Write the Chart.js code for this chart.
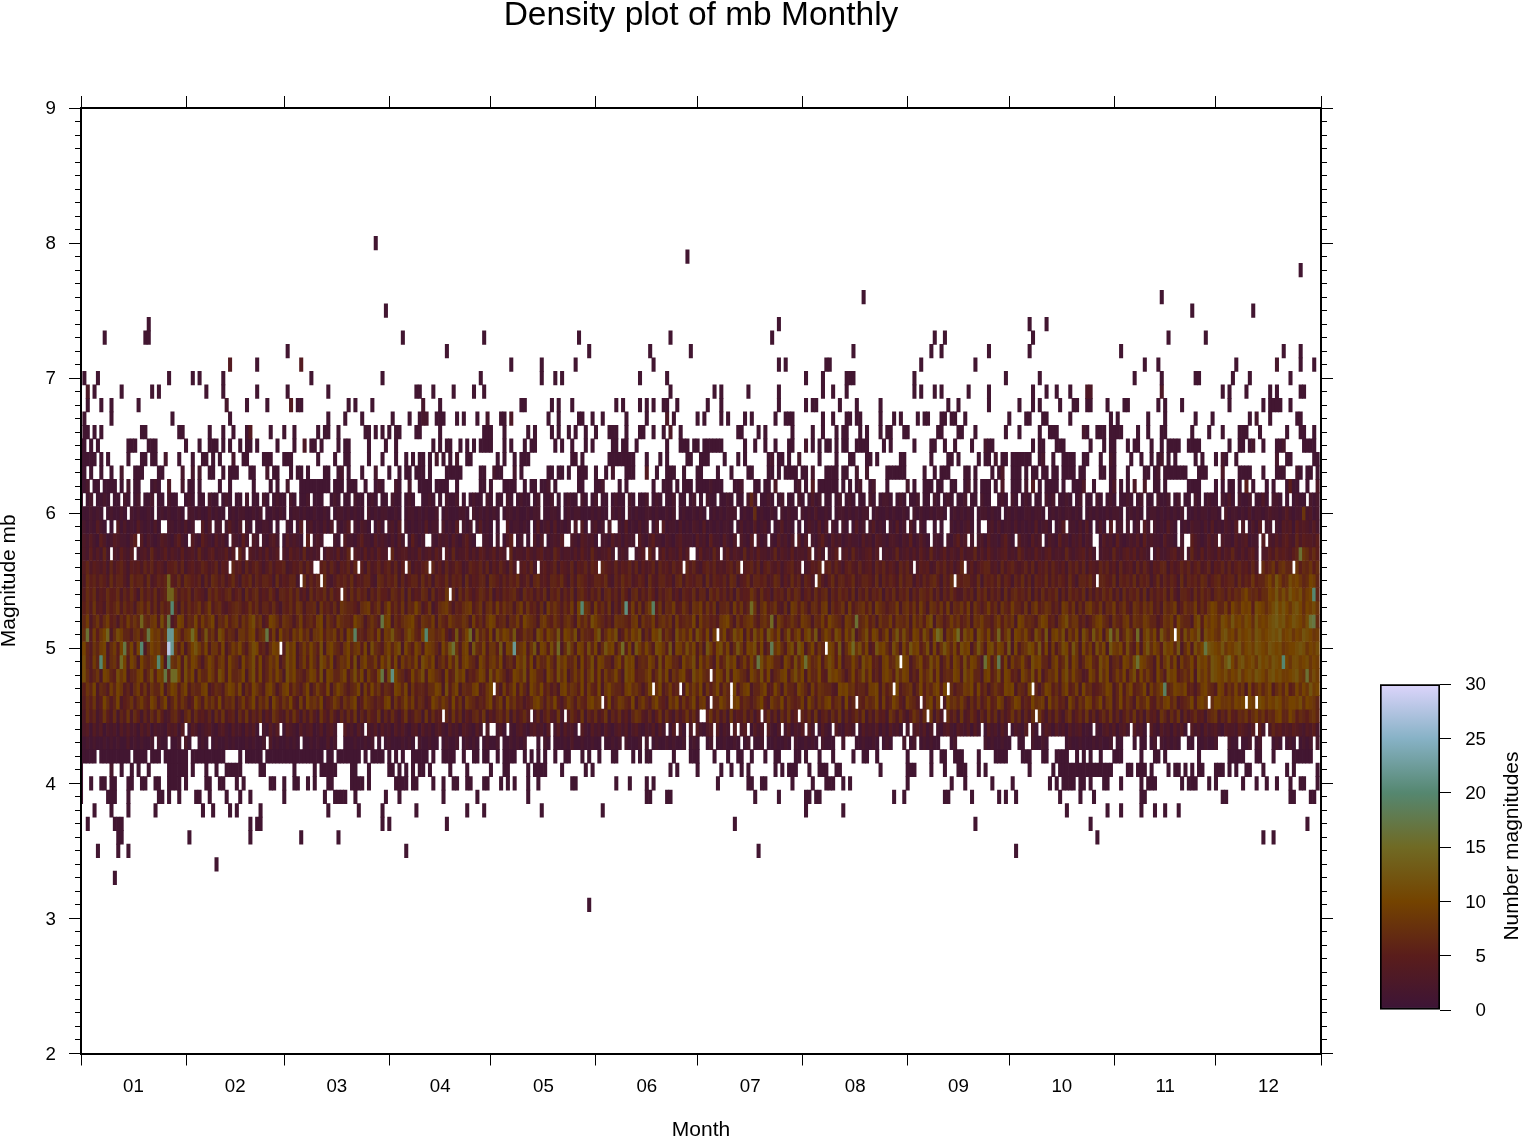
<!DOCTYPE html>
<html>
<head>
<meta charset="utf-8">
<title>Density plot of mb Monthly</title>
<script src="https://cdn.jsdelivr.net/npm/chart.js@4/dist/chart.umd.min.js"></script>
<style>
    body { margin: 0; background: #fff; }
    #densityChart { position: absolute; left: 0; top: 0; }
    #barChart { position: absolute; left: 1360px; top: 660px; }
</style>
</head>
<body>
<canvas id="densityChart" width="1524" height="1138"></canvas>
<canvas id="barChart" width="164" height="380"></canvas>
<script>
// Ejes
const monthEdges = [0, 31, 60, 91, 121, 152, 182, 213, 244, 274, 305, 335, 366];
const monthLabels = ['01', '02', '03', '04', '05', '06', '07', '08', '09', '10', '11', '12'];
const barTicks = [0, 5, 10, 15, 20, 25, 30];
const barColors = ['#3c1437', '#5a1d1b', '#744300', '#706a24', '#558770', '#87b2c6', '#ddd5fc'];

// Filas dispersas: un dia por cada evento leido (dia repetido = mas eventos)
const m80 = [87];
const m79 = [179];
const m78 = [360];
const m76 = [231, 319];
const m75 = [90, 328, 346];
const m74 = [20, 206, 280, 285];
const m73 = [7, 19, 20, 95, 119, 147, 174, 204, 252, 255, 281, 321, 332];
const m72 = [61, 108, 150, 168, 180, 228, 251, 254, 268, 280, 307, 355, 360];
const m71 = [44, 44, 44, 44, 52, 65, 65, 65, 65, 127, 136, 146, 169, 206, 208, 220, 221, 248, 264, 314, 318, 341, 353, 353, 360, 364];
const m70 = [1, 5, 26, 33, 35, 42, 68, 89, 118, 136, 140, 142, 165, 173, 214, 219, 226, 227, 228, 246, 273, 283, 311, 319, 329, 330, 340, 345, 357];
const m69 = [2, 2, 2, 4, 12, 21, 23, 37, 42, 52, 61, 73, 99, 100, 104, 110, 116, 119, 174, 187, 189, 197, 206, 219, 222, 226, 246, 248, 252, 254, 262, 268, 281, 285, 288, 292, 297, 297, 297, 298, 298, 298, 319, 319, 319, 337, 339, 344, 351, 353, 360, 361];
const m68 = [2, 6, 9, 17, 43, 43, 49, 55, 62, 62, 62, 62, 64, 65, 79, 81, 86, 101, 101, 106, 130, 131, 139, 141, 145, 158, 160, 165, 167, 169, 172, 173, 176, 185, 189, 206, 214, 216, 217, 224, 229, 236, 256, 259, 268, 277, 281, 283, 289, 293, 294, 297, 298, 303, 308, 309, 318, 320, 325, 339, 349, 351, 352, 353, 354, 357];
const m67 = [1, 9, 27, 44, 73, 78, 83, 92, 97, 100, 101, 101, 102, 102, 105, 106, 107, 111, 113, 117, 120, 120, 124, 125, 127, 127, 127, 138, 141, 147, 148, 151, 154, 161, 167, 173, 173, 173, 175, 182, 184, 189, 191, 196, 198, 205, 208, 209, 210, 219, 222, 226, 227, 229, 230, 236, 240, 242, 247, 249, 250, 254, 255, 257, 258, 261, 274, 279, 280, 284, 285, 292, 304, 306, 315, 320, 329, 334, 345, 347, 347, 351, 359, 360];
const m66 = [1, 2, 4, 6, 18, 19, 29, 30, 38, 42, 45, 49, 50, 50, 50, 50, 56, 60, 63, 70, 72, 73, 76, 84, 85, 87, 89, 91, 93, 94, 99, 100, 106, 119, 120, 121, 125, 132, 134, 139, 141, 144, 146, 149, 152, 156, 157, 158, 161, 165, 166, 169, 172, 174, 174, 174, 177, 194, 195, 200, 202, 210, 216, 219, 223, 225, 226, 230, 232, 236, 238, 239, 243, 244, 253, 254, 259, 260, 264, 273, 277, 283, 286, 287, 288, 296, 296, 297, 300, 301, 302, 304, 305, 306, 307, 312, 315, 319, 320, 328, 333, 337, 342, 343, 344, 348, 356, 360, 361, 364];
const m65 = [0, 1, 3, 5, 14, 15, 16, 20, 21, 22, 31, 35, 38, 39, 40, 42, 44, 47, 49, 50, 52, 58, 63, 66, 66, 66, 68, 69, 71, 76, 78, 79, 85, 90, 93, 104, 106, 108, 109, 112, 114, 116, 118, 119, 120, 121, 125, 127, 131, 133, 134, 140, 142, 145, 149, 151, 157, 158, 160, 161, 164, 173, 177, 178, 179, 181, 182, 184, 185, 186, 187, 188, 189, 196, 199, 202, 205, 209, 210, 214, 214, 216, 218, 220, 221, 223, 225, 226, 229, 230, 231, 232, 237, 239, 246, 251, 252, 255, 258, 263, 267, 267, 268, 269, 281, 283, 284, 288, 289, 290, 298, 302, 304, 305, 309, 311, 312, 316, 319, 321, 322, 323, 324, 327, 328, 329, 330, 339, 342, 343, 345, 346, 346, 349, 353, 354, 355, 355, 361, 362, 363, 364];
const m64 = [0, 1, 2, 3, 4, 6, 8, 14, 18, 19, 21, 22, 25, 25, 29, 33, 36, 37, 39, 41, 45, 45, 48, 49, 54, 55, 56, 60, 61, 62, 70, 75, 78, 79, 85, 89, 93, 96, 98, 100, 101, 103, 105, 105, 107, 109, 111, 111, 114, 115, 123, 125, 128, 130, 131, 132, 145, 146, 148, 156, 157, 158, 159, 160, 161, 162, 163, 167, 171, 173, 179, 180, 183, 184, 185, 190, 194, 196, 203, 204, 204, 206, 207, 209, 212, 212, 218, 223, 227, 228, 232, 233, 235, 242, 243, 251, 256, 257, 259, 265, 267, 268, 270, 270, 272, 273, 275, 276, 277, 278, 279, 280, 283, 284, 284, 287, 290, 291, 292, 293, 296, 297, 301, 304, 304, 305, 310, 313, 316, 318, 319, 319, 321, 323, 329, 331, 335, 337, 337, 338, 341, 353, 353, 356, 357, 364, 365];
const m63 = [0, 1, 3, 6, 9, 12, 12, 16, 17, 18, 23, 24, 30, 30, 33, 33, 35, 35, 38, 39, 42, 44, 45, 46, 50, 51, 55, 55, 57, 58, 62, 64, 65, 67, 72, 73, 76, 77, 77, 79, 83, 87, 87, 91, 94, 96, 97, 99, 100, 101, 103, 108, 109, 110, 111, 112, 118, 119, 122, 122, 123, 124, 128, 128, 130, 138, 139, 141, 142, 144, 147, 148, 149, 152, 155, 157, 157, 161, 162, 163, 167, 167, 167, 167, 170, 173, 174, 175, 178, 182, 183, 188, 192, 197, 198, 203, 204, 206, 208, 209, 210, 211, 213, 214, 216, 216, 220, 221, 222, 223, 225, 226, 229, 229, 232, 232, 238, 239, 240, 241, 242, 243, 249, 252, 254, 255, 256, 261, 262, 264, 269, 271, 272, 272, 272, 275, 276, 277, 279, 281, 282, 284, 285, 287, 288, 290, 291, 292, 293, 295, 296, 301, 302, 304, 305, 309, 314, 315, 317, 318, 318, 320, 321, 322, 323, 324, 325, 326, 330, 331, 332, 337, 337, 337, 342, 343, 344, 345, 349, 353, 354, 355, 359, 359, 360, 362, 363, 365];
const m62 = [0, 1, 2, 2, 4, 5, 7, 8, 9, 10, 12, 14, 14, 16, 17, 21, 22, 22, 23, 26, 26, 26, 30, 30, 32, 33, 35, 41, 44, 51, 56, 58, 61, 61, 65, 66, 67, 68, 69, 70, 71, 72, 73, 75, 76, 77, 79, 80, 81, 84, 87, 88, 88, 89, 93, 93, 94, 97, 97, 100, 101, 102, 103, 105, 106, 107, 108, 111, 118, 119, 121, 125, 126, 127, 128, 131, 133, 134, 136, 137, 138, 138, 140, 147, 148, 152, 153, 154, 154, 159, 161, 169, 172, 173, 174, 176, 178, 179, 180, 182, 183, 184, 185, 186, 186, 187, 188, 189, 193, 194, 195, 195, 199, 200, 202, 203, 205, 205, 205, 211, 212, 212, 214, 216, 216, 216, 216, 218, 219, 220, 221, 222, 223, 225, 227, 229, 230, 230, 233, 234, 234, 238, 244, 244, 246, 249, 250, 251, 253, 254, 257, 258, 261, 262, 262, 264, 266, 267, 268, 270, 272, 272, 272, 275, 276, 277, 279, 279, 281, 281, 281, 281, 283, 285, 286, 287, 288, 290, 293, 294, 295, 296, 296, 296, 299, 304, 305, 305, 305, 307, 309, 311, 311, 311, 314, 314, 314, 317, 318, 320, 327, 328, 329, 330, 335, 337, 339, 340, 342, 344, 344, 344, 344, 344, 346, 350, 352, 356, 357, 357, 357, 357, 357, 358, 359, 362, 365, 365, 365];
const m42 = [0, 1, 2, 3, 4, 6, 7, 8, 9, 10, 11, 12, 13, 14, 16, 17, 18, 19, 21, 22, 23, 25, 26, 27, 28, 29, 30, 31, 33, 34, 35, 36, 37, 38, 39, 40, 41, 42, 47, 49, 50, 51, 52, 53, 55, 56, 57, 58, 59, 60, 61, 62, 63, 64, 65, 66, 67, 68, 69, 70, 71, 73, 74, 76, 77, 78, 79, 80, 81, 82, 84, 86, 87, 88, 89, 91, 93, 95, 98, 99, 100, 101, 102, 104, 107, 108, 109, 110, 113, 116, 117, 119, 120, 123, 125, 126, 127, 128, 131, 133, 135, 137, 140, 143, 144, 148, 150, 153, 157, 158, 163, 165, 167, 168, 175, 180, 181, 182, 187, 191, 194, 195, 198, 202, 205, 206, 211, 212, 214, 218, 222, 228, 231, 232, 235, 244, 251, 254, 255, 258, 259, 260, 265, 270, 271, 272, 273, 278, 279, 280, 284, 285, 288, 289, 290, 291, 294, 296, 298, 301, 305, 306, 307, 313, 317, 318, 320, 330, 339, 340, 341, 342, 343, 347, 348, 352, 358, 359, 360, 361, 362, 363];
const m41 = [0, 9, 9, 12, 15, 17, 20, 26, 27, 28, 29, 30, 31, 33, 37, 40, 43, 44, 45, 46, 47, 53, 54, 63, 69, 71, 72, 73, 74, 75, 80, 81, 85, 91, 92, 94, 96, 98, 100, 101, 103, 109, 114, 121, 125, 126, 132, 134, 135, 136, 137, 142, 149, 151, 174, 176, 182, 189, 192, 195, 197, 205, 207, 209, 210, 211, 215, 218, 219, 220, 223, 224, 236, 244, 245, 246, 251, 255, 259, 260, 261, 265, 267, 280, 287, 289, 290, 291, 292, 293, 294, 295, 296, 297, 298, 299, 300, 301, 302, 303, 304, 309, 310, 312, 313, 314, 316, 321, 323, 324, 326, 328, 330, 331, 335, 336, 337, 339, 341, 344, 345, 349, 356, 358, 365];
const m40 = [0, 3, 6, 7, 9, 10, 14, 15, 18, 19, 22, 23, 26, 27, 28, 29, 31, 37, 38, 41, 42, 46, 48, 56, 57, 60, 63, 64, 67, 69, 73, 74, 80, 81, 82, 83, 85, 93, 94, 95, 96, 98, 99, 104, 107, 110, 111, 114, 115, 119, 120, 124, 126, 128, 132, 135, 145, 146, 158, 162, 167, 169, 188, 197, 198, 201, 202, 210, 216, 220, 221, 222, 225, 227, 244, 257, 261, 269, 275, 286, 288, 290, 291, 292, 293, 295, 296, 298, 302, 303, 307, 313, 315, 316, 317, 325, 327, 328, 329, 333, 335, 343, 347, 350, 353, 357, 360, 361, 365];
const m39 = [0, 8, 9, 10, 14, 23, 24, 26, 29, 34, 35, 38, 43, 47, 50, 60, 72, 75, 76, 77, 78, 81, 90, 94, 107, 117, 132, 167, 168, 173, 174, 199, 206, 214, 215, 217, 218, 240, 243, 255, 256, 263, 271, 273, 276, 289, 295, 299, 313, 314, 337, 338, 357, 358, 363, 364];
const m38 = [4, 9, 14, 22, 36, 39, 44, 46, 53, 73, 82, 89, 99, 114, 119, 136, 154, 214, 225, 291, 303, 307, 313, 317, 320, 324];
const m37 = [2, 10, 11, 12, 50, 52, 53, 89, 91, 108, 193, 264, 298, 362];
const m36 = [11, 12, 32, 50, 65, 76, 300, 349, 352];
const m35 = [5, 11, 14, 96, 200, 276];
const m34 = [40];
const m33 = [10];
const m31 = [150];

// Filas densas: conteo por dia (36 grupos de 10 y 6 finales), 0=vacio, a=10, b=11, c=12...
// Son estimaciones a ojo del tono y la textura de la banda, no lecturas exactas celda a celda
const c61 = '1012011210 1102101201 1201102110 0121011021 1012101102 0110210121 ' + '1021011201 1100121011 0211012101 1021101210 0112101021 1201012110 ' + '2101102101 2110120112 0101211021 0120110121 1021011201 2101120110 ' + '1201021101 1210110212 0112101201 1021013120 1101201210 1102101221 ' + '0121011201 1021012101 1201102110 0121021012 1011021201 1210120110 ' + '2101210112 1012011021 1201201102 1012110213 1021120113 1022101012 110212';
const c60 = '2112121012 1121021211 2101212112 1022121131 2110121221 1212011212 ' + '1012212112 1121012212 1211021212 2112101221 2121120121 1122102121 ' + '2121012212 1121220112 2101212211 1212110212 1021211221 2112120121 ' + '1212101212 1222012112 1211210212 1102121311 2101221212 1220121121 ' + '2112102121 1212210121 2121012212 1101212112 2122101212 1221210121 ' + '2112122101 2121012212 1212120112 1221221031 2212131221 2322124212 232312';
const c59 = '3212142131 2413121421 2131412212 1312214131 2212421312 1411221213 ' + '1212141231 2131312124 1213212131 1231412121 2141221312 1412122141 ' + '2131214122 1213141231 4121213141 1231213122 1412131221 3141221312 ' + '1321412121 2213131214 1231212412 1213132141 3121321214 1212412132 ' + '1412131421 2312131212 1231412123 1312213121 2141231312 4122131412 ' + '1312412212 3121421212 1421312132 2131412132 1413213142 2232143415 343242';
const c58 = '3324215312 4322135241 3212432135 2134215321 4231232152 1324213422 ' + '1423213512 3231421242 2135221423 2131423152 1242213231 4213521322 ' + '2142313521 2412313212 3241232143 2315221423 1322142135 2213213422 ' + '2142315221 4213232142 3123214231 3241322135 2142312322 1423143213 ' + '3213251242 1322142135 2312423142 2135213422 1423213215 2313241323 ' + '2142315212 3241523221 4221322153 2124231322 1423412234 3324245326 354435';
const c57 = '4325242623 3253245234 2632352432 5234263245 2335242632 4324252342 ' + '3253426232 3524325236 2432524253 3262344232 5234253242 6233524254 ' + '2352432623 3253245232 6423324253 2632335242 3245234263 2352432524 ' + '4325232632 3524326242 5332362432 5233253242 4235234263 2345243232 ' + '3623424253 2632352432 5233624253 2345232642 3253245233 2632345242 ' + '5233263245 3524326242 2345234263 2524325243 6324245253 3536454356 487575';
const c56 = '5463543526 3564254536 4635425563 6245346534 6254364526 3564246355 ' + '6235463643 2563642546 3645263463 5636254624 3564635263 4652365463 ' + '6253642635 4536264534 6254362546 3652654363 5463625346 2645364526 ' + '4632564634 3563624563 6256435245 6346235462 5636425643 6345264635 ' + '4264636354 5236463524 6635245663 4263564346 3625463643 5264636254 ' + '3646352634 5263642546 6253464635 6346254636 3564536357 56847866a8 576857';
const c55 = '6375646537 4664275663 7346562547 3765462637 6463574265 7364665273 ' + '5466247364 6573246564 7354663276 4657263566 3746265473 6562735466 ' + '2765364657 3462674536 6574263765 3466573264 7563465274 3664526736 ' + '5466273654 6376245736 6563476253 7462653674 2573664573 4665372646 ' + '5374662536 4675264736 5664372656 4736526473 6265473646 5374266574 ' + '3665472656 4736562473 6465273656 4763567456 6374658566 8a7c967b9a 867a96';
const c54 = '6475735475 5736475274 6473565274 6573654275 7546735627 4673547526 ' + '6574735274 6573745263 7475626475 5376472735 4762735485 6274753576 ' + '4725365674 2756364726 5736472675 3647267463 7526736475 2646735265 ' + '4736627574 6362745586 3745265637 4762563746 7264756372 6473657264 ' + '7365726476 5736264753 3646275736 4627367564 7263746572 6375647263 ' + '6475736274 6573726465 7374266537 4756367647 5768a76757 7a9c8b8ca9 b79a86';
const c53 = '7574845375 6847563785 8473756462 7475684694 6743567645 8573664742 ' + '6574873667 2856473876 6537894683 7a5748376a 7358247896 3657894683 ' + '7849586737 9485637296 8647593a68 7395748263 7859483796 5837694586 ' + '3879485826 6739584648 3795684372 9858637748 9275683946 7858397646 ' + '6937858496 3875849376 8593864695 7386596648 3795687463 9858374896 ' + '5837694685 3875868463 8679358669 4758a96695 a87a9a5ba9 79bdaca8bc a7a9b8';
const c52 = '8693684795 6375968637 6894b6835a 9476a5968a 3769578486 9b6835a974 ' + '8763694675 9a38649766 5a87368647 9a375789a6 4876938659 7668739574 ' + '8a95673769 4a87638965 8647863968 5b97646387 7658938669 4786839567 ' + '6a39675648 9a63857896 4786a39756 8649873769 5a87639864 6795738669 ' + '4876839685 9b38746968 5683879664 7958683a96 7648a95637 9b68846357 ' + '9a76386589 4876986635 8794a76639 b5a8a97ba8 c9a8ba7c9a 9bcdbc9acb a8b9a7';
const c51 = '8764958a63 7b96647857 3a896847a8 5897a36c68 4b95763886 9a4788593a ' + '67497a6838 8a5879483a 89664785a3 98c7648b96 5a38867952 5c47a93b68 ' + '5a3b7a96c4 58673b95a8 6c4a97b386 659c47a8b3 596a8b374a 9c5863b796 ' + 'a4b85a39c7 a46b8a395b 7a4c96a37b 58a49b6c37 a85b94a7c3 68b5a947a3 ' + '8c6b74a95b 83a6c397a4 5b8a3b96a4 7c58b3a97a 64b85c39a7 b496a3b85c ' + '7a39a6c47b 85a39b7a4c 8693a5b7a8 c4b9a87bc9 a7b9ab8cb9 abcbd9ab8a 9cba89';
const c50 = '8a64869a37 95a96a4a83 7a89664a85 937ac96a48 85a3697a64 8ba5637a96 ' + '4b8a3696a7 5b39a7648a 6895a3b764 8a69b3a75a 84a9863a7c 5849a3c76a ' + '4885c3a967 8a48c3a95b 6a37c84a95 b6a37c9a48 b5a3c96a74 ba85c3a96b ' + '7a483c95ab 6a37c84a9b 5a36c8a749 b5ca37a486 ba95c37a48 b6a35c9a74 ' + 'b83a6c9a57 b3a48c96a5 b9a37c84ab 6a95c3a478 ba6c5a3947 ba5c83a694 ' + 'b7a3c98a5b 64a39c7a85 b9a6c37a4b 8a7cba9c8a 9bc8ab9cba 9cbab89aab cb8a9b';
const c49 = '8b64969a37 859a4a83a7 6895a3687a 4b6a9637a8 5894a763a6 8b5a4697a3 ' + '6b8a3695a7 4b96a3687a 5b38a6694a 7b5a39686a 4b97a3685a 6b49a763a8 ' + '5896a3674a 8b5a3966a7 4b8a6693a5 7b4a96638a 5b9a3676a8 4b5a9663a7 ' + '8b4a6963a5 7b8a3695a6 4b7a9663a8 5b6a3967a4 8b95a366a7 4b8a5639a6 ' + '7b4a9368a5 6b7a3694a8 5b6a9637a4 8b5a3967a6 4b9a6638a5 7b4a8369a6 ' + '5b8a3674a9 6b5a9763a4 8b6a3967a5 b9a7cba8c9 a7bc9ab8ca b9cba9a8bb 9ab8a9';
const c48 = '8b74683a96 5b8a3669a4 7b5a96638a 4b7a3966a8 5b94a667a3 8b5a4696a7 ' + '3b8a6647a9 5b3a9668a4 7b6a3965a8 4b9a7635a6 8b4a9763a5 6b8a3657a9 ' + '4b6a8635a9 7b4a9663a8 5b7a3696a4 8b5a4967a6 3b9a5668a4 7b6a3869a5 ' + '4b8a7636a9 5b4a9763a8 6b5a3679a4 8b7a3966a5 4b9a8636a5 7b6a4639a8 ' + '5b7a9364a6 8b5a3676a9 4b8a6639a5 7b4a9563a8 6b5a3687a4 9b6a7634a8 ' + '5b7a3696a4 8b5a6963a7 4b9a5686a3 b8a7cba9b8 a9c8ab9cba 8bcab99abc 98a8b9';
const c47 = '7586a37649 6a84637958 4866a37a95 8a47669a35 7648a96a37 5a8649a736 ' + '9a58647a36 965a37a864 67a395a684 764a96a385 66477a93b5 8a37669a45 ' + '8a663957a4 963a86a574 639a6875a4 965a38a766 49a78636a5 7a4695683a ' + '696a3857a4 865a479a36 68a45a7396 64a8639587 6643a9a785 66499a3857 ' + '9a467836a5 869a5a3746 698a4a5736 865a9a3764 a8636a9574 8a5693a674 ' + '567a936a48 a567a3968a 467a98a563 69a764a958 6a683a5796 8a4796a56a 7a8c9a';
const c46 = '6475835a74 6a35684796 5a847a3695 8635a74968 5a47683695 7a48693a75 ' + '86a5394a78 6a35697486 8a35976465 9a3857a694 7635a86974 a583976465 ' + '8a4793a685 63569a7486 a536974865 9a7835a469 865a379648 a65397a485 ' + '7a4893566a 8639a57646 8a53976a48 65693a7486 9a5783a469 65867a3946 ' + 'a853976465 8a4953a786 9637484695 6a8357a946 5a7893a685 63a7486a95 ' + '7a48936a58 63967a5486 9a683567a4 9a8a7aa889 7a9a8a97ba 8a9ba78aa9 b7a986';
const c45 = '5374624853 7264837526 3748523674 2683745362 7483562748 3647253864 ' + '3748526374 2853742637 4826375482 6374258347 6283745263 8472536748 ' + '2536748263 5748362574 3826475382 6473582647 3526874362 5837426358 ' + '4736258473 6283547362 5847362748 3526473825 6374826357 4826374528 ' + '6374258637 4826357462 8347526384 7263584726 3748526374 2683574836 ' + '2574836257 4836274528 6374826357 4526783648 5476857968 5769a66a85 765786';
const c44 = '2341424132 3142423142 4132214341 4214312342 1342142314 2413214243 ' + '1432142341 2413423142 3142132414 2314242134 1423134214 2314321424 ' + '3142314213 4213423142 2414231342 1423142134 2413421324 1423142314 ' + '3142134241 3214234214 2314213424 1324142314 2134214324 1423241314 ' + '2314213424 1342134214 3241423142 3142413214 2314243142 3142341214 ' + '2134241342 1423134214 2314241342 3142342143 3254324352 4364534354 324352';
const c43 = '2121211212 1211312121 1212112112 1311212121 2112121112 1211213121 ' + '1212121121 2113121211 1211212112 1211121211 2112112121 1211212111 ' + '2112111212 1211211212 1112131121 1211211212 1211121211 2112121121 ' + '1211212111 2112121211 1211121121 1211212112 1112121121 1211211121 ' + '1212112112 1211121121 2112111212 1121121112 1211211212 1121121112 ' + '1211211121 1121121212 1212112112 1121121212 1121121121 1212131212 121212';

// Celdas blancas dentro de la banda densa
const h59 = [8, 10, 24, 25, 34, 35, 39, 42, 48, 51, 57, 59, 60, 63, 66, 75, 80, 86, 90, 95, 106, 112, 116, 122, 124, 125, 133, 145, 147, 150, 155, 157, 158, 168, 171, 193, 204, 211, 213, 221, 224, 227, 232, 238, 244, 247, 250, 251, 253, 255, 256, 264, 266, 267, 287, 291, 299, 303, 305, 308, 310, 313, 316, 324, 342, 344, 349, 352];
const h58 = [17, 32, 44, 50, 53, 59, 66, 68, 72, 73, 74, 77, 96, 102, 103, 117, 118, 122, 124, 128, 131, 133, 137, 143, 144, 153, 164, 194, 199, 203, 211, 215, 251, 255, 262, 264, 276, 284, 299, 300, 324, 326, 327, 336, 348, 350];
const h57 = [9, 16, 46, 49, 59, 71, 80, 91, 107, 126, 158, 162, 163, 167, 170, 180, 181, 189, 216, 220, 224, 236, 300, 316, 326, 348];
const h56 = [44, 69, 70, 82, 96, 103, 129, 135, 153, 178, 195, 213, 219, 246, 261, 348, 358];
const h55 = [65, 71, 217, 258, 300];
const h54 = [77, 109];
const h51 = [188, 323];
const h50 = [59, 220];
const h49 = [242];
const h48 = [186];
const h47 = [122, 169, 177, 192, 240, 256, 281];
const h46 = [154, 186, 192, 229, 248, 254, 333, 344, 347];
const h45 = [107, 133, 143, 183, 184, 201, 212, 250, 255, 282];
const h44 = [31, 53, 59, 76, 77, 84, 119, 121, 122, 126, 139, 147, 173, 176, 179, 181, 187, 192, 194, 197, 202, 207, 214, 217, 222, 229, 243, 245, 252, 266, 274, 280, 283, 299, 310, 315, 327, 347, 350];
const h43 = [22, 26, 30, 33, 34, 38, 55, 65, 76, 77, 87, 89, 99, 106, 112, 118, 124, 132, 133, 134, 136, 139, 154, 160, 166, 168, 179, 183, 184, 187, 195, 198, 202, 210, 218, 223, 224, 226, 227, 228, 236, 240, 241, 242, 244, 247, 254, 255, 256, 259, 260, 261, 262, 263, 264, 265, 266, 275, 276, 279, 280, 286, 287, 288, 289, 290, 305, 308, 309, 310, 312, 315, 318, 325, 326, 329, 336, 337, 338, 342, 346, 349, 350, 351, 355, 359, 364];

// Celdas mas intensas leidas una a una
const peakMags = [5.0, 5.0, 5.1, 5.1, 4.9, 4.8, 4.8, 4.8, 5.3, 5.2, 5.4, 5.4, 5.5, 4.9, 4.9, 4.9, 5.0, 5.0, 5.1, 5.1, 5.1, 5.1, 5.1, 5.1, 5.2, 5.3, 5.3, 5.3, 5.2, 5.1, 5.1, 5.0, 5.0, 5.0, 5.0, 4.8, 4.8, 5.2, 5.2, 5.0, 5.0, 4.9, 4.9, 4.9, 4.9, 5.3, 5.1, 5.1, 5.1, 5.4, 5.2, 5.2, 5.1, 5.1, 5.0, 4.9, 4.9, 4.7, 4.8, 5.7, 4.9, 6.0, 6.0, 6.1];
const peakDays = [26, 27, 26, 27, 26, 25, 27, 28, 27, 26, 26, 27, 26, 6, 23, 12, 18, 13, 20, 2, 8, 33, 55, 81, 18, 148, 161, 169, 89, 102, 115, 110, 128, 141, 160, 92, 89, 229, 204, 204, 228, 200, 214, 267, 271, 198, 271, 259, 253, 364, 363, 364, 312, 304, 332, 355, 312, 320, 362, 360, 339, 199, 361, 198];
const peakCounts = [28, 22, 22, 22, 20, 17, 15, 15, 20, 17, 14, 14, 14, 20, 20, 15, 20, 17, 17, 16, 14, 15, 17, 19, 14, 20, 21, 19, 17, 20, 15, 16, 22, 15, 15, 21, 17, 16, 15, 18, 15, 17, 16, 16, 18, 15, 14, 15, 15, 20, 16, 17, 15, 15, 17, 20, 16, 19, 16, 16, 15, 7, 8, 6];

const sparseRows = [
    [8.0, m80], [7.9, m79], [7.8, m78], [7.6, m76], [7.5, m75], [7.4, m74], [7.3, m73], [7.2, m72],
    [7.1, m71], [7.0, m70], [6.9, m69], [6.8, m68], [6.7, m67], [6.6, m66], [6.5, m65], [6.4, m64],
    [6.3, m63], [6.2, m62], [4.2, m42], [4.1, m41], [4.0, m40], [3.9, m39],
    [3.8, m38], [3.7, m37], [3.6, m36], [3.5, m35], [3.4, m34], [3.3, m33], [3.1, m31]
];
const denseRows = [
    [6.1, c61, []], [6.0, c60, []],
    [5.9, c59, h59], [5.8, c58, h58], [5.7, c57, h57], [5.6, c56, h56], [5.5, c55, h55], [5.4, c54, h54],
    [5.3, c53, []], [5.2, c52, []], [5.1, c51, h51], [5.0, c50, h50], [4.9, c49, h49], [4.8, c48, h48],
    [4.7, c47, h47], [4.6, c46, h46], [4.5, c45, h45], [4.4, c44, h44], [4.3, c43, h43]
];

// Color de una celda segun la paleta de la barra
function hexToRgb(hex) {
    return [1, 3, 5].map(i => parseInt(hex.slice(i, i + 2), 16));
}

function countColor(count) {
    const t = Math.min(count, 30) / 5;
    const i = Math.min(Math.floor(t), barColors.length - 2);
    const a = hexToRgb(barColors[i]);
    const b = hexToRgb(barColors[i + 1]);
    const f = t - i;
    const c = a.map((v, k) => Math.round(v + (b[k] - v) * f));
    return 'rgb(' + c.join(',') + ')';
}

// Pasar las filas a celdas {x, y: [abajo, arriba], n}
function cellsFromDays(mag, days) {
    const counts = {};
    days.forEach(d => { counts[d] = (counts[d] || 0) + 1; });
    return Object.keys(counts).map(d => ({ x: +d, y: [mag - 0.05, mag + 0.05], n: counts[d] }));
}

function cellsFromString(mag, text, holes) {
    const chars = text.replace(/ /g, '');
    const cells = [];
    for (let d = 0; d < chars.length; d++) {
        if (holes.includes(d)) continue;
        let n = parseInt(chars[d], 36);
        peakMags.forEach((m, i) => {
            if (m === mag && peakDays[i] === d) n = peakCounts[i];
        });
        if (!n) continue;
        cells.push({ x: d, y: [mag - 0.05, mag + 0.05], n: n });
    }
    return cells;
}

function rowDataset(cells) {
    return {
        data: cells,
        grouped: false,
        barThickness: 3.39,
        backgroundColor: ctx => countColor(ctx.raw ? ctx.raw.n : 1)
    };
}

const datasets = [];
sparseRows.forEach(r => datasets.push(rowDataset(cellsFromDays(r[0], r[1]))));
denseRows.forEach(r => datasets.push(rowDataset(cellsFromString(r[0], r[1], r[2]))));

const FONT = 'Liberation Sans';
const monthMids = monthLabels.map((_, i) => (monthEdges[i] + monthEdges[i + 1]) / 2);

function monthTicks(axis) {
    const edges = monthEdges.map(v => ({ value: v }));
    const mids = monthMids.map(v => ({ value: v }));
    axis.ticks = edges.concat(mids).sort((a, b) => a.value - b.value);
}

const baseBorder = { display: true, color: '#000', width: 2, z: 2 };

new Chart(document.getElementById('densityChart'), {
    type: 'bar',
    data: { datasets: datasets },
    options: {
        responsive: false,
        animation: false,
        layout: { padding: { left: 0, right: 191, top: 0, bottom: 0 } },
        plugins: {
            colors: { enabled: false },
            legend: { display: false },
            tooltip: { enabled: false },
            title: {
                display: true,
                fullSize: false,
                text: 'Density plot of mb Monthly',
                color: '#000',
                font: { family: FONT, size: 33.5, weight: 'normal' },
                padding: { top: -3.9, bottom: 0 }
            }
        },
        scales: {
            x: {
                type: 'linear',
                position: 'bottom',
                min: 0,
                max: 366,
                offset: false,
                afterBuildTicks: monthTicks,
                afterFit: s => { s.height = 84.5; },
                border: baseBorder,
                grid: {
                    offset: false,
                    drawOnChartArea: false,
                    tickLength: 12,
                    tickColor: ctx => (ctx.tick && monthMids.includes(ctx.tick.value) ? 'rgba(0,0,0,0)' : '#000')
                },
                ticks: {
                    autoSkip: false,
                    maxRotation: 0,
                    padding: 10.5,
                    color: '#000',
                    font: { family: FONT, size: 18.7 },
                    callback: v => {
                        const i = monthMids.indexOf(v);
                        return i >= 0 ? monthLabels[i] : '';
                    }
                },
                title: {
                    display: true,
                    text: 'Month',
                    color: '#000',
                    font: { family: FONT, size: 21 },
                    padding: { top: 0, bottom: -4.6 }
                }
            },
            xTop: {
                type: 'linear',
                position: 'top',
                min: 0,
                max: 366,
                offset: false,
                afterBuildTicks: axis => { axis.ticks = monthEdges.map(v => ({ value: v })); },
                afterFit: s => { s.height = 71.7; },
                border: baseBorder,
                grid: { offset: false, drawOnChartArea: false, tickLength: 12, tickColor: '#000' },
                ticks: { display: false }
            },
            y: {
                type: 'linear',
                position: 'left',
                weight: 1,
                min: 2,
                max: 9,
                afterFit: s => { s.width = 81; },
                border: { display: false },
                grid: { drawOnChartArea: false, tickLength: 12, tickColor: '#000' },
                ticks: {
                    stepSize: 1,
                    padding: 13,
                    labelOffset: 1,
                    color: '#000',
                    font: { family: FONT, size: 18.7 }
                },
                title: {
                    display: true,
                    text: 'Magnitude mb',
                    color: '#000',
                    font: { family: FONT, size: 21 },
                    padding: { top: -3.6, bottom: 0 }
                }
            },
            yMinor: {
                type: 'linear',
                position: 'left',
                weight: 0,
                min: 2,
                max: 9,
                afterFit: s => { s.width = 0; },
                border: baseBorder,
                grid: { drawOnChartArea: false, tickLength: 6, tickColor: '#000' },
                ticks: { stepSize: 0.1, autoSkip: false, display: false }
            },
            yRight: {
                type: 'linear',
                position: 'right',
                weight: 1,
                min: 2,
                max: 9,
                afterFit: s => { s.width = 12; },
                border: { display: false },
                grid: { drawOnChartArea: false, tickLength: 12, tickColor: '#000' },
                ticks: { stepSize: 1, display: false }
            },
            yRightMinor: {
                type: 'linear',
                position: 'right',
                weight: 0,
                min: 2,
                max: 9,
                afterFit: s => { s.width = 0; },
                border: baseBorder,
                grid: { drawOnChartArea: false, tickLength: 6, tickColor: '#000' },
                ticks: { stepSize: 0.1, autoSkip: false, display: false }
            }
        }
    }
});

// Barra de color: titulo girado como en el original
const barTitlePlugin = {
    id: 'barTitle',
    afterDraw(chart) {
        const ctx = chart.ctx;
        ctx.save();
        ctx.translate(152, 186);
        ctx.rotate(-Math.PI / 2);
        ctx.font = '21px "' + FONT + '"';
        ctx.fillStyle = '#000';
        ctx.textAlign = 'center';
        ctx.textBaseline = 'middle';
        ctx.fillText('Number magnitudes', 0, 0);
        ctx.restore();
    }
};

new Chart(document.getElementById('barChart'), {
    type: 'bar',
    data: {
        labels: ['count'],
        datasets: [{
            data: [[barTicks[0], barTicks[barTicks.length - 1]]],
            borderColor: '#000',
            borderWidth: 2,
            borderSkipped: false,
            barPercentage: 1,
            categoryPercentage: 1,
            backgroundColor: ctx => {
                const area = ctx.chart.chartArea;
                if (!area) return barColors[0];
                const g = ctx.chart.ctx.createLinearGradient(0, area.bottom, 0, area.top);
                barTicks.forEach((v, i) => g.addColorStop(v / 30, barColors[i]));
                return g;
            }
        }]
    },
    options: {
        responsive: false,
        animation: false,
        layout: { padding: { left: 20, right: 38, top: 24, bottom: 30 } },
        plugins: { colors: { enabled: false }, legend: { display: false }, tooltip: { enabled: false } },
        scales: {
            x: { display: false },
            y: {
                position: 'right',
                min: 0,
                max: 30,
                afterFit: s => { s.width = 46; },
                border: { display: false },
                grid: { drawOnChartArea: false, tickLength: 11, tickColor: '#000' },
                ticks: {
                    stepSize: 5,
                    padding: 13,
                    labelOffset: 1,
                    crossAlign: 'far',
                    color: '#000',
                    font: { family: FONT, size: 18.7 }
                }
            }
        }
    },
    plugins: [barTitlePlugin]
});
</script>
</body>
</html>
